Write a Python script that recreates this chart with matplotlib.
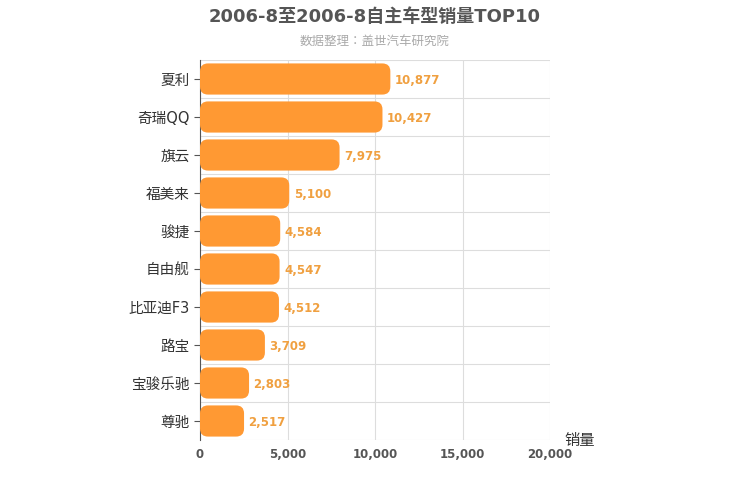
import matplotlib

matplotlib.use("Agg")

import matplotlib.pyplot as plt
from matplotlib import font_manager
from matplotlib.patches import FancyBboxPatch

cjk = [f.name for f in font_manager.fontManager.ttflist if "CJK" in f.name]
cjk_name = next((n for n in cjk if "SC" in n), cjk[0] if cjk else "DejaVu Sans")
plt.rcParams["font.family"] = ["DejaVu Sans", cjk_name]

CATEGORIES = ["夏利", "奇瑞QQ", "旗云", "福美来", "骏捷", "自由舰", "比亚迪F3", "路宝", "宝骏乐驰", "尊驰"]
SALES = [10877, 10427, 7975, 5100, 4584, 4547, 4512, 3709, 2803, 2517]
X_TICKS = [0, 5000, 10000, 15000, 20000]

BAR_COLOR = "#FF9933"
LABEL_COLOR = "#F0A040"

fig = plt.figure(figsize=(7.5, 5), dpi=100)
ax = fig.add_axes([200 / 750, 1 - 440 / 500, 350 / 750, 380 / 500])

n = len(CATEGORIES)
ax.set_xlim(0, 20000)
ax.set_ylim(n - 0.5, -0.5)

x_per_px = 20000 / 350
y_per_px = n / 380
bar_h = 0.82
for i, v in enumerate(SALES):
    box = FancyBboxPatch(
        (0, i - bar_h / 2), v, bar_h,
        boxstyle=f"round,pad=0,rounding_size={8 * x_per_px}",
        mutation_aspect=y_per_px / x_per_px,
        facecolor=BAR_COLOR, edgecolor="none", zorder=3,
    )
    ax.add_patch(box)
    ax.text(v + 250, i + 0.03, f"{v:,}", va="center", ha="left", color=LABEL_COLOR,
            fontsize=8.5, fontweight="bold", zorder=4)

ax.set_yticks(range(n))
ax.set_yticklabels(CATEGORIES, fontsize=10.5, color="#333333")
ax.set_xticks(X_TICKS)
ax.set_xticklabels([f"{t:,}" for t in X_TICKS], fontsize=8.5, color="#555555", fontweight="bold")
for y in [i + 0.5 for i in range(-1, n)]:
    ax.axhline(y, color="#dddddd", linewidth=0.8, zorder=1)
for x in X_TICKS:
    ax.axvline(x, color="#dddddd", linewidth=0.8, zorder=1)
for side in ["top", "right", "bottom"]:
    ax.spines[side].set_visible(False)
ax.spines["left"].set_color("#555555")
ax.tick_params(axis="y", length=4, color="#555555")
ax.tick_params(axis="x", length=0, pad=6)

fig.text(0.5, 1 - 17 / 500, "2006-8至2006-8自主车型销量TOP10", ha="center", va="center",
         fontsize=13, fontweight="bold", color="#555555")
fig.text(0.5, 1 - 41 / 500, "数据整理：盖世汽车研究院", ha="center", va="center",
         fontsize=9, color="#aaaaaa")
fig.text(580 / 750, 1 - 440 / 500, "销量", ha="center", va="center", fontsize=11, color="#333333")

fig.savefig("out.png")
